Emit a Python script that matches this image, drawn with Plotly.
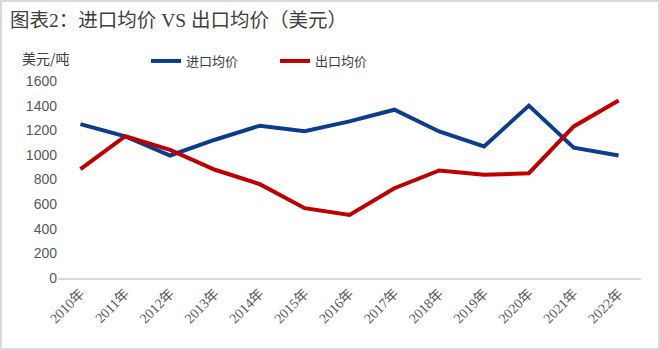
import plotly.graph_objects as go

years = ["2010年", "2011年", "2012年", "2013年", "2014年", "2015年", "2016年",
         "2017年", "2018年", "2019年", "2020年", "2021年", "2022年"]
import_price = [1250, 1150, 995, 1123, 1237, 1192, 1272, 1367, 1190, 1068, 1400, 1058, 995]
export_price = [884, 1152, 1041, 879, 762, 567, 512, 729, 873, 838, 851, 1231, 1442]
yticks = [0, 200, 400, 600, 800, 1000, 1200, 1400, 1600]

W, H = 660, 350
L, R, T, B = 58, 19, 81, 72
pw, ph = W - L - R, H - T - B

def px2x(px):
    return (px - L) / pw

def py2y(py):
    return (H - B - py) / ph

fig = go.Figure()
fig.add_trace(go.Scatter(x=years, y=import_price, mode="lines", name="进口均价",
                         line=dict(color="#0B3D8E", width=4)))
fig.add_trace(go.Scatter(x=years, y=export_price, mode="lines", name="出口均价",
                         line=dict(color="#C00000", width=4)))

fig.update_layout(
    width=W, height=H,
    margin=dict(l=L, r=R, t=T, b=B, autoexpand=False),
    paper_bgcolor="white", plot_bgcolor="white",
    font=dict(family="Liberation Serif, Noto Sans CJK SC", color="#595959"),
    showlegend=True,
    legend=dict(orientation="h", xref="container", yref="container",
                x=146 / W, y=1 - 61 / H, xanchor="left", yanchor="middle",
                itemwidth=30, font=dict(size=13, color="#404040",
                                        family="Noto Sans CJK SC"),
                bgcolor="rgba(0,0,0,0)", tracegroupgap=0,
                entrywidth=84),
    xaxis=dict(type="category", range=[-0.5, 12.5], showline=True,
               linecolor="#D9D9D9", linewidth=1.5, showgrid=False,
               ticks="", tickangle=-45,
               tickfont=dict(size=14, color="#595959",
                             family="Liberation Serif, Noto Sans CJK SC")),
    yaxis=dict(range=[0, 1600], tickvals=yticks, showgrid=False, zeroline=False,
               showline=False, ticks="",
               tickfont=dict(size=14, color="#595959",
                             family="Liberation Sans Narrow, Liberation Sans")),
    annotations=[
        dict(text="图表2：进口均价 VS 出口均价（美元）", xref="paper", yref="paper",
             x=px2x(8), y=py2y(20), xanchor="left", yanchor="middle",
             showarrow=False,
             font=dict(size=19.5, color="#404040",
                       family="Liberation Serif, Noto Sans CJK SC")),
        dict(text="美元/吨", xref="paper", yref="paper",
             x=px2x(20), y=py2y(58), xanchor="left", yanchor="middle",
             showarrow=False,
             font=dict(size=14, color="#404040", family="Noto Sans CJK SC")),
    ],
    shapes=[
        dict(type="rect", xref="paper", yref="paper",
             x0=px2x(1), x1=px2x(659), y0=py2y(349), y1=py2y(1),
             line=dict(color="#D9D9D9", width=2), fillcolor="rgba(0,0,0,0)",
             layer="below"),
    ],
)

fig.write_html("out.html")
